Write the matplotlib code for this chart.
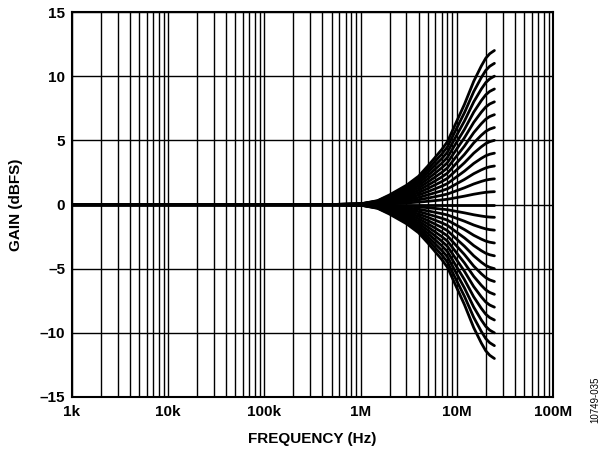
import numpy as np
import matplotlib
matplotlib.use("Agg")
import matplotlib.pyplot as plt
from matplotlib.ticker import FixedLocator, NullFormatter

# Frequency points (Hz) read along the outermost (+12 dB) curve
freq_hz = [1e3, 1e4, 1e5, 5e5, 1.0e6, 1.5e6, 2e6, 3e6, 4e6, 5e6, 6e6, 7e6, 8e6,
           10e6, 12e6, 15e6, 18e6, 20e6, 22e6, 23.5e6, 24.6e6]
# Response of the +12 dB curve at those points (dB)
top_curve_db = [0.0, 0.0, 0.0, 0.0, 0.05, 0.3, 0.75, 1.5, 2.2, 3.0, 3.7, 4.3, 4.9,
                6.5, 7.8, 9.6, 10.8, 11.4, 11.75, 11.9, 12.0]
# End gains of each curve (dB)
end_gains_db = [12, 11, 10, 9, 8, 7, 6, 5, 4, 3, 2, 1, 0,
                -1, -2, -3, -4, -5, -6, -7, -8, -9, -10, -11, -12]

x_ticks = [1e3, 1e4, 1e5, 1e6, 1e7, 1e8]
x_tick_labels = ["1k", "10k", "100k", "1M", "10M", "100M"]
y_ticks = [-15, -10, -5, 0, 5, 10, 15]
y_tick_labels = ["\u201315", "\u201310", "\u20135", "0", "5", "10", "15"]

plt.rcParams['font.family'] = ['Liberation Sans', 'DejaVu Sans']

fig = plt.figure(figsize=(6.03, 4.51), dpi=100)
ax = fig.add_axes([72/603, 1-397/451, (553-72)/603, (397-12)/451])

ax.set_xscale('log')
ax.set_xlim(1e3, 1e8)
ax.set_ylim(-15, 15)

f = np.array(freq_hz)
prof = np.array(top_curve_db) / 12.0
for g in end_gains_db:
    ax.plot(f, prof * g, color='black', lw=2.0, solid_capstyle='round')

# grid
minor = [m * 10**d for d in range(3, 8) for m in range(2, 10)]
ax.xaxis.set_major_locator(FixedLocator(x_ticks))
ax.xaxis.set_minor_locator(FixedLocator(minor))
ax.xaxis.set_minor_formatter(NullFormatter())
ax.set_xticklabels(x_tick_labels)
ax.set_yticks(y_ticks)
ax.set_yticklabels(y_tick_labels)
ax.grid(True, which='both', axis='x', color='black', lw=1.0)
ax.grid(True, which='major', axis='y', color='black', lw=1.0)
ax.set_axisbelow(True)

ax.tick_params(which='both', length=0)
ax.tick_params(axis='x', pad=6, labelsize=11)
ax.tick_params(axis='y', pad=5, labelsize=11)
for lab in ax.get_xticklabels() + ax.get_yticklabels():
    lab.set_fontweight('bold')
for s in ax.spines.values():
    s.set_linewidth(1.5)

ax.set_xlabel("FREQUENCY (Hz)", fontsize=11, fontweight='bold', labelpad=9)
ax.set_ylabel("GAIN (dBFS)", fontsize=11, fontweight='bold', labelpad=12)

fig.text(595/603, 1-400/451, "10749-035", rotation=90, fontsize=7,
         ha='center', va='center')

fig.savefig("out.png", dpi=100)
